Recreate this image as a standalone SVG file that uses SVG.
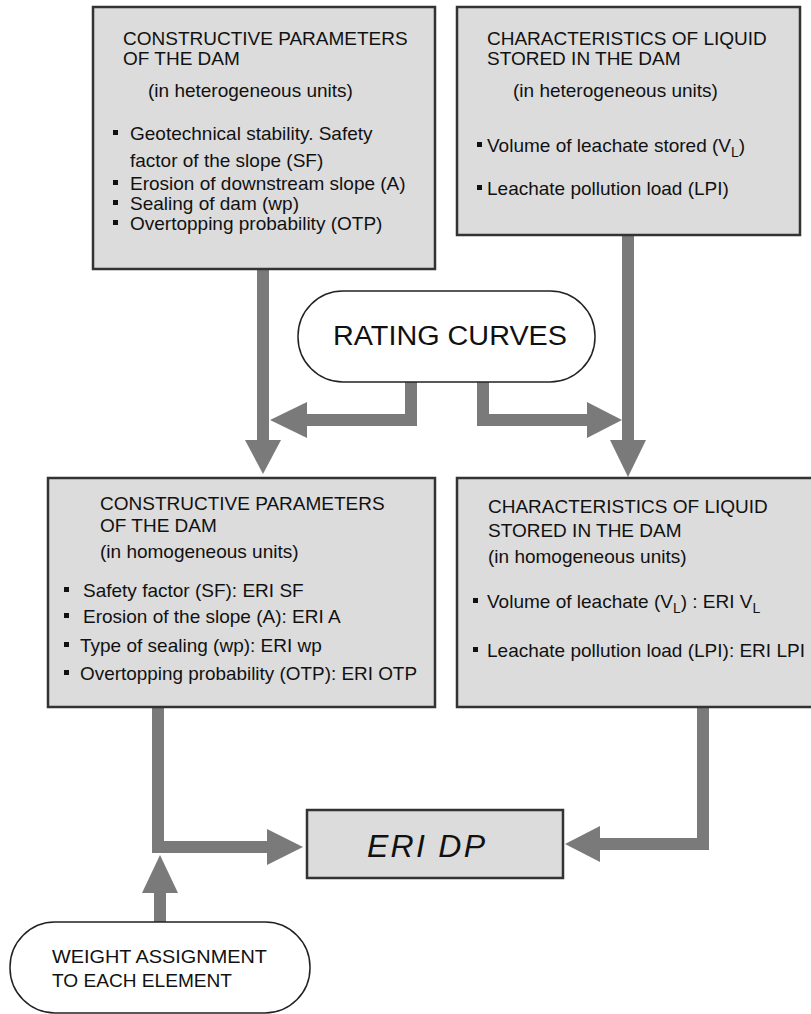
<svg xmlns="http://www.w3.org/2000/svg" width="811" height="1014" viewBox="0 0 811 1014">
<style>
.box{fill:#dcdcdc;stroke:#333;stroke-width:2.5}
.oval{fill:#fff;stroke:#222;stroke-width:1.5}
.t{font-family:"Liberation Sans",Arial,sans-serif;font-size:19px;fill:#111}
.w{font-family:"Liberation Sans",Arial,sans-serif;font-size:18px;fill:#111}
.c{fill:none;stroke:#7a7a7a;stroke-width:12;stroke-linejoin:miter;stroke-linecap:butt}
.h{fill:#7a7a7a}
.b{fill:#111}
</style>
<rect width="811" height="1014" fill="#fff"/>
<g id="connectors">
<line class="c" x1="263" y1="269" x2="263" y2="442"/>
<polygon class="h" points="245,440 281,440 263,474"/>
<line class="c" x1="628" y1="235" x2="628" y2="442"/>
<polygon class="h" points="610,440 646,440 628,477"/>
<polyline class="c" points="411,382 411,420 305,420"/>
<polygon class="h" points="307,402 307,438 270,420"/>
<polyline class="c" points="483,382 483,420 590,420"/>
<polygon class="h" points="587,402 587,438 622,420"/>
<polyline class="c" points="158,707 158,847 270,847"/>
<polygon class="h" points="267,829 267,865 303,847"/>
<polyline class="c" points="703,707 703,844 598,844"/>
<polygon class="h" points="600,826 600,862 565,844"/>
<line class="c" x1="160" y1="922" x2="160" y2="890"/>
<polygon class="h" points="142,893 178,893 160,855"/>
</g>
<g id="box1">
<rect class="box" x="93" y="7" width="342" height="262"/>
<text class="t" x="123" y="45">CONSTRUCTIVE PARAMETERS</text>
<text class="t" x="123" y="65">OF THE DAM</text>
<text class="t" x="148" y="97">(in heterogeneous units)</text>
<rect class="b" x="113" y="130" width="5" height="5"/>
<text class="t" x="130" y="140">Geotechnical stability. Safety</text>
<text class="t" x="130" y="167">factor of the slope (SF)</text>
<rect class="b" x="113" y="180" width="5" height="5"/>
<text class="t" x="130" y="190">Erosion of downstream slope (A)</text>
<rect class="b" x="113" y="200" width="5" height="5"/>
<text class="t" x="130" y="210">Sealing of dam (wp)</text>
<rect class="b" x="113" y="220" width="5" height="5"/>
<text class="t" x="130" y="230">Overtopping probability (OTP)</text>
</g>
<g id="box2">
<rect class="box" x="457" y="7" width="343" height="228"/>
<text class="t" x="487" y="45">CHARACTERISTICS OF LIQUID</text>
<text class="t" x="487" y="65">STORED IN THE DAM</text>
<text class="t" x="513" y="97">(in heterogeneous units)</text>
<rect class="b" x="477" y="142" width="5" height="5"/>
<text class="t" x="487" y="152">Volume of leachate stored (V<tspan style="font-size:14px" dy="5">L</tspan><tspan dy="-5">)</tspan></text>
<rect class="b" x="477" y="185" width="5" height="5"/>
<text class="t" x="487" y="195">Leachate pollution load (LPI)</text>
</g>
<g id="rating">
<rect class="oval" x="298" y="291" width="297" height="91" rx="45" ry="45"/>
<text class="t" x="333" y="345" style="font-size:27px" textLength="234" lengthAdjust="spacingAndGlyphs">RATING CURVES</text>
</g>
<g id="box3">
<rect class="box" x="48" y="478" width="387" height="229"/>
<text class="t" x="100" y="510">CONSTRUCTIVE PARAMETERS</text>
<text class="t" x="100" y="532">OF THE DAM</text>
<text class="t" x="100" y="558">(in homogeneous units)</text>
<rect class="b" x="64" y="587" width="5" height="5"/>
<text class="t" x="83" y="597">Safety factor (SF): ERI SF</text>
<rect class="b" x="64" y="613" width="5" height="5"/>
<text class="t" x="83" y="623">Erosion of the slope (A): ERI A</text>
<rect class="b" x="64" y="642" width="5" height="5"/>
<text class="t" x="80" y="652">Type of sealing (wp): ERI wp</text>
<rect class="b" x="64" y="670" width="5" height="5"/>
<text class="t" x="80" y="680" textLength="337" lengthAdjust="spacingAndGlyphs">Overtopping probability (OTP): ERI OTP</text>
</g>
<g id="box4">
<rect class="box" x="457" y="478" width="360" height="229"/>
<text class="t" x="488" y="513">CHARACTERISTICS OF LIQUID</text>
<text class="t" x="488" y="537">STORED IN THE DAM</text>
<text class="t" x="488" y="563">(in homogeneous units)</text>
<rect class="b" x="473" y="598" width="5" height="5"/>
<text class="t" x="487" y="608">Volume of leachate (V<tspan dy="5" style="font-size:14px">L</tspan><tspan dy="-5">) : ERI V</tspan><tspan dy="5" style="font-size:14px">L</tspan></text>
<rect class="b" x="473" y="647" width="5" height="5"/>
<text class="t" x="487" y="657">Leachate pollution load (LPI): ERI LPI</text>
</g>
<g id="eridp">
<rect class="box" x="307" y="810" width="256" height="68"/>
<text class="t" x="367" y="857" style="font-size:32px;font-style:italic" textLength="118">ERI DP</text>
</g>
<g id="weight">
<rect class="oval" x="10" y="922" width="300" height="91" rx="45" ry="45"/>
<text class="w" x="52" y="963" textLength="215" lengthAdjust="spacingAndGlyphs">WEIGHT ASSIGNMENT</text>
<text class="w" x="52" y="987" textLength="180" lengthAdjust="spacingAndGlyphs">TO EACH ELEMENT</text>
</g>
</svg>
